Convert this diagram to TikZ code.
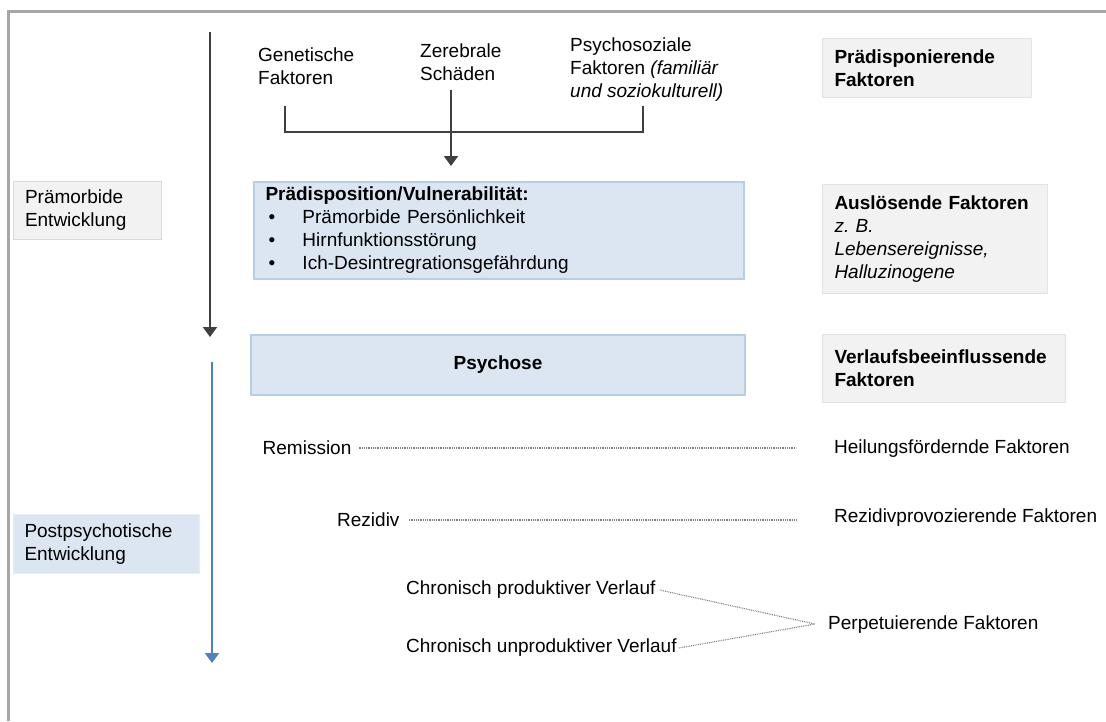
\documentclass[tikz,border=0pt]{standalone}
\usepackage{fontspec}
\setmainfont{Liberation Sans}
\usetikzlibrary{arrows.meta}
\definecolor{frameC}{HTML}{A6A6A6}
\definecolor{darkC}{HTML}{404040}
\definecolor{blueArr}{HTML}{4F81BD}
\definecolor{blueFill}{HTML}{DCE6F2}
\definecolor{blueLine}{HTML}{B9CDE5}
\definecolor{grayFill}{HTML}{F2F2F2}
\definecolor{grayLine}{HTML}{E3E3E3}
\definecolor{dotC}{HTML}{7F7F7F}
\tikzset{
  every node/.style={font=\fontsize{19}{23}\selectfont, text=black},
  txt/.style={inner sep=0pt, anchor=west, align=left},
  bluebox/.style={draw=blueLine, line width=2pt, fill=blueFill, anchor=north west, inner ysep=2pt, inner xsep=12pt, align=left},
  graybox/.style={draw=grayLine, line width=1pt, fill=grayFill, anchor=north west, inner ysep=2pt, inner xsep=12pt, align=left},
  lightbluebox/.style={draw=blueFill!70!white, line width=1pt, fill=blueFill, anchor=north west, inner ysep=2pt, inner xsep=11.5pt, align=left},
  darrow/.style={draw=darkC, line width=2pt, -{Triangle[width=14pt,length=10pt]}},
  barrow/.style={draw=blueArr, line width=2pt, -{Triangle[width=14pt,length=10pt]}},
  darkline/.style={draw=darkC, line width=2pt},
  dotline/.style={draw=dotC, line width=1.1pt, dash pattern=on 0.9pt off 0.9pt},
  framel/.style={draw=frameC, line width=3pt}
}
\begin{document}
\begin{tikzpicture}[x=1pt,y=-1pt]
\useasboundingbox (0,0) rectangle (1106,721);
% frame
\draw[framel] (1106,11) -- (8,11) -- (8,721);

% left phase boxes
\node[graybox, draw=grayLine!80!black!20!grayLine, minimum width=147.5pt, minimum height=58pt, text width=124.5pt] (praem) at (12.5,181) {Prämorbide\\Entwicklung};
\node[lightbluebox, minimum width=186.5pt, minimum height=59pt, text width=163.5pt] (post) at (12.5,514) {Postpsychotische\\Entwicklung};

% main arrows
\coordinate (aTop) at (210,32);
\coordinate (aBot) at (210,337);
\draw[darrow] (aTop) -- (aBot);
\coordinate (bTop) at (212,362);
\coordinate (bBot) at (212,663);
\draw[barrow] (bTop) -- (bBot);

% predisposing factors
\node[txt] (gen) at (258,66.5) {Genetische\\Faktoren};
\node[txt] (zer) at (420,62) {Zerebrale\\Schäden};
\node[txt] (psy) at (570,70) {Psychosoziale\\Faktoren \textit{(familiär}\\\textit{und soziokulturell)}};

% bracket
\coordinate (brL) at (285,106);
\coordinate (brR) at (643,106);
\coordinate (brC) at (451,90);
\draw[darkline] (brL) -- (285,132) -- (643,132) -- (brR);

% predisposition box
\node[bluebox, minimum width=490pt, minimum height=97pt, text width=466pt] (pd) at (252.5,181)
 {\textbf{Prädisposition/Vulnerabilität:}\\
  \hspace*{3pt}\makebox[34pt][l]{•}Prämorbide Persönlichkeit\\
  \hspace*{3pt}\makebox[34pt][l]{•}Hirnfunktionsstörung\\
  \hspace*{3pt}\makebox[34pt][l]{•}Ich-Desintregrationsgefährdung};
\draw[darrow] (brC) -- (brC |- 0,166);

% psychose
\node[bluebox, minimum width=494pt, minimum height=60pt, align=center] (psych) at (250,334) {\textbf{Psychose}};

% right boxes
\node[graybox, minimum width=209pt, minimum height=59pt, text width=185pt] (fPrae) at (822,38) {\textbf{Prädisponierende}\\\textbf{Faktoren}};
\node[graybox, minimum width=225pt, minimum height=109pt, text width=201pt] (fAusl) at (822,184) {\textbf{Auslösende Faktoren}\\\textit{z.\ B.}\\\textit{Lebensereignisse,}\\\textit{Halluzinogene}};
\node[graybox, minimum width=243pt, minimum height=68pt, text width=219pt] (fVerl) at (822,334) {\textbf{Verlaufsbeeinflussende}\\\textbf{Faktoren}};

% course
\node[txt] (rem) at (262.5,448) {Remission};
\node[txt] (heil) at (834,449) {Heilungsfördernde Faktoren};
\coordinate (remE) at (796,448);
\draw[dotline] ([xshift=7pt]rem.east) -- (rem.east -| remE);

\node[txt] (rez) at (337,520) {Rezidiv};
\node[txt] (rezF) at (834,518) {Rezidivprovozierende Faktoren};
\coordinate (rezE) at (796,520);
\draw[dotline] ([xshift=9pt]rez.east) -- (rez.east -| rezE);

\node[txt] (cp) at (406,590) {Chronisch produktiver Verlauf};
\node[txt] (cu) at (406,648) {Chronisch unproduktiver Verlauf};
\node[txt] (perp) at (828,625) {Perpetuierende Faktoren};
\coordinate (perpP) at (815,624);
\draw[dotline] ([xshift=4pt]cp.east) -- (perpP);
\draw[dotline] ([xshift=2pt]cu.east) -- (perpP);
\end{tikzpicture}
\end{document}
